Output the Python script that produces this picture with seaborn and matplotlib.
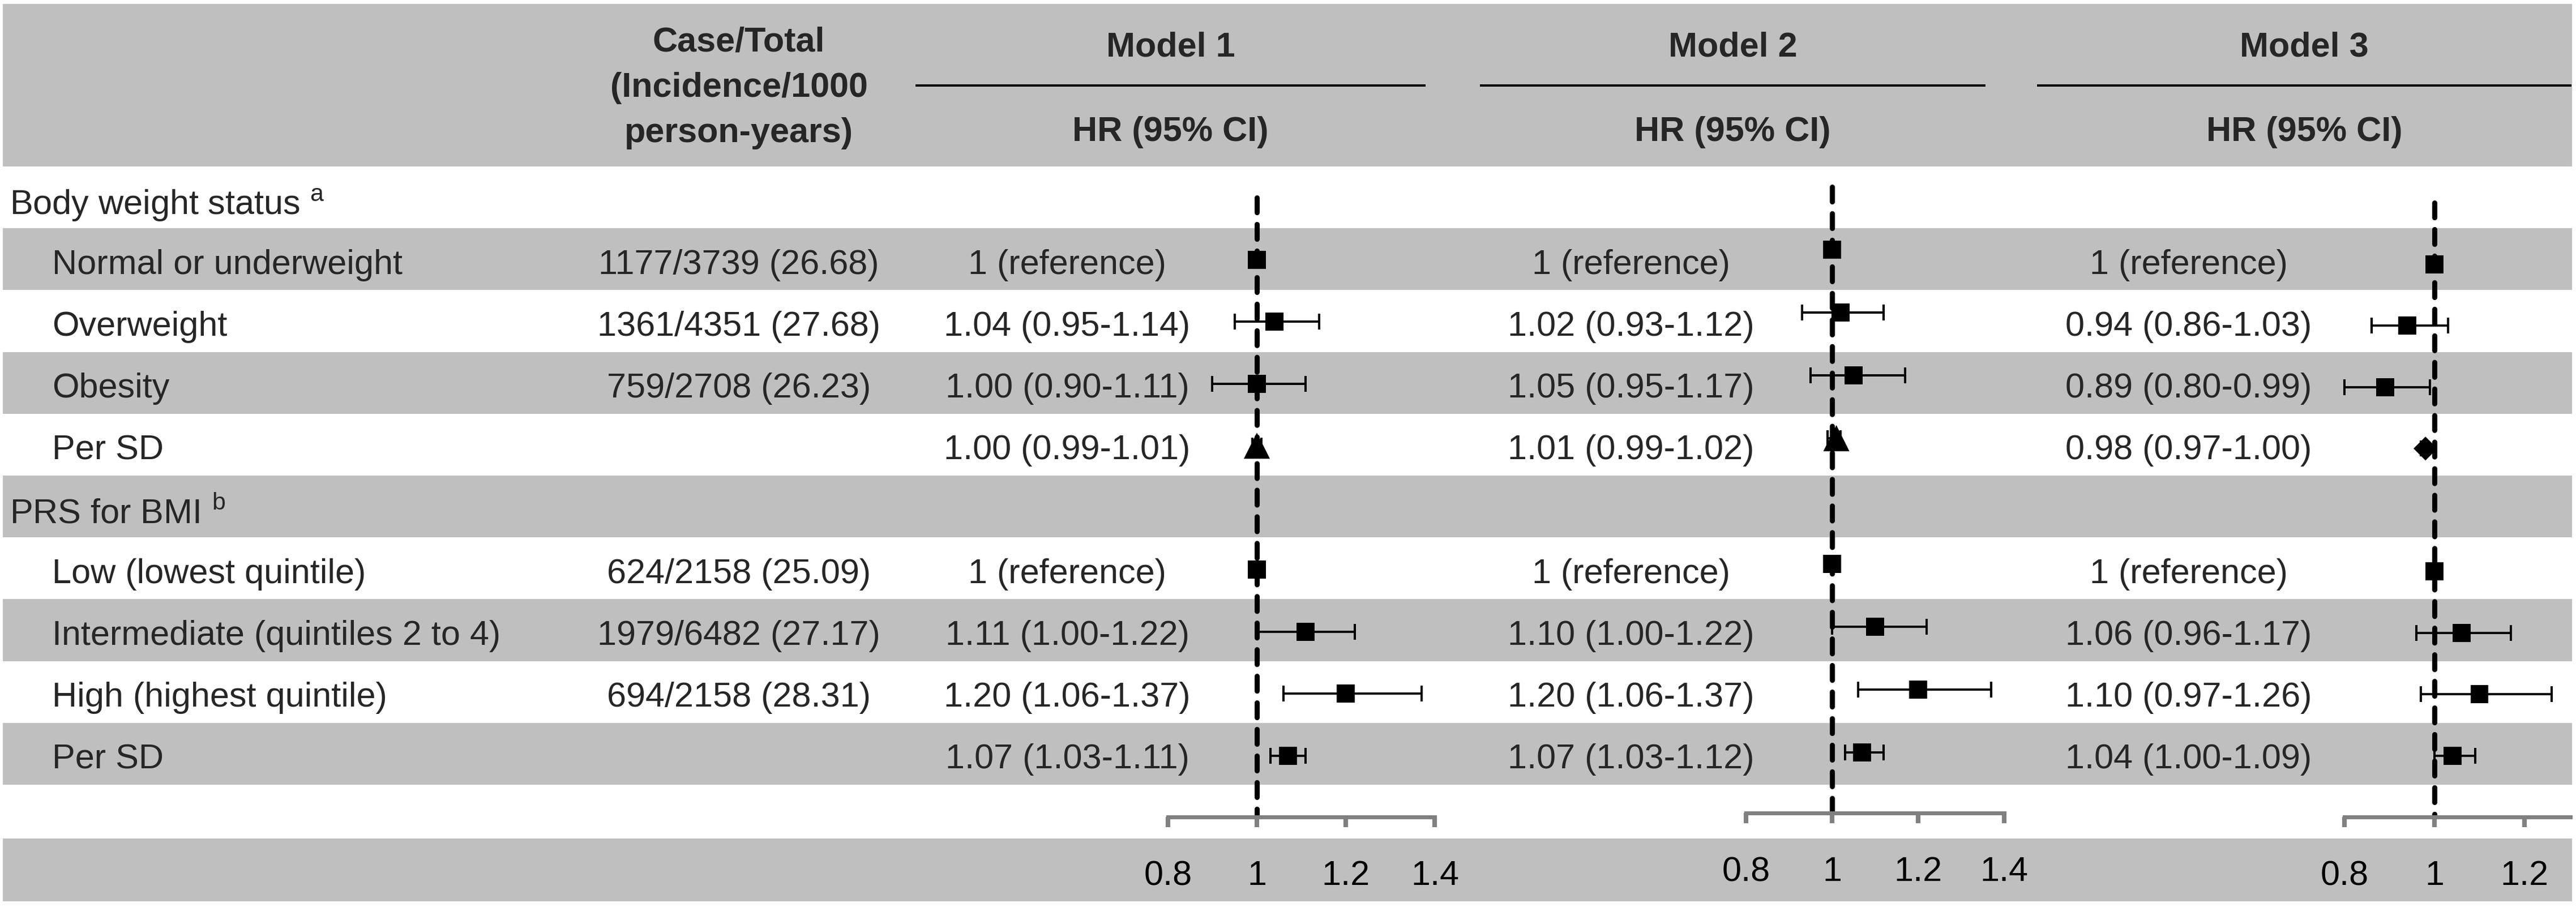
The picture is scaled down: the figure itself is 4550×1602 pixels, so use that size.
import numpy as np
import pandas as pd
import matplotlib
matplotlib.use("Agg")
from matplotlib import pyplot as plt
import seaborn as sns

# ---- data -------------------------------------------------------------
row_labels = ["Body weight status", "Normal or underweight", "Overweight", "Obesity", "Per SD",
              "PRS for BMI", "Low (lowest quintile)", "Intermediate (quintiles 2 to 4)",
              "High (highest quintile)", "Per SD"]
group_notes = {0: "a", 5: "b"}
case_total = ["", "1177/3739 (26.68)", "1361/4351 (27.68)", "759/2708 (26.23)", "",
              "", "624/2158 (25.09)", "1979/6482 (27.17)", "694/2158 (28.31)", ""]

models = ["Model 1", "Model 2", "Model 3"]
plot_rows = [1, 2, 3, 4, 6, 7, 8, 9]
per_sd_body_row = 4

m1_hr = [1, 1.04, 1.00, 1.00, 1, 1.11, 1.20, 1.07]
m1_lo = [np.nan, 0.95, 0.90, 0.99, np.nan, 1.00, 1.06, 1.03]
m1_hi = [np.nan, 1.14, 1.11, 1.01, np.nan, 1.22, 1.37, 1.11]

m2_hr = [1, 1.02, 1.05, 1.01, 1, 1.10, 1.20, 1.07]
m2_lo = [np.nan, 0.93, 0.95, 0.99, np.nan, 1.00, 1.06, 1.03]
m2_hi = [np.nan, 1.12, 1.17, 1.02, np.nan, 1.22, 1.37, 1.12]

m3_hr = [1, 0.94, 0.89, 0.98, 1, 1.06, 1.10, 1.04]
m3_lo = [np.nan, 0.86, 0.80, 0.97, np.nan, 0.96, 0.97, 1.00]
m3_hi = [np.nan, 1.03, 0.99, 1.00, np.nan, 1.17, 1.26, 1.09]

x_ticks = [[0.8, 1, 1.2, 1.4], [0.8, 1, 1.2, 1.4], [0.8, 1, 1.2]]
null_hr = 1

# ---- layout (pixels) --------------------------------------------------
W, H = 4550, 1602
GRAY = "#BFBFBF"
AXGRAY = "#808080"
FS = 44
row_top0, row_h = 294, 109.2
band_x0, band_x1 = 5, 4543
case_x = 1305
hr_text_x = [1885, 2881, 3866]
head_x0 = [1617, 2614, 3598]
head_x1 = [2518, 3507, 4542]
# x of HR=1, pixels per unit, axis line y, centre of row 0, centre of row 9, axes left/right
panels = [
    dict(one=2220, ppu=786, axy=1443, r0=349, r9=1335, x0=1960, x1=2580),
    dict(one=3236, ppu=760, axy=1436, r0=330, r9=1329, x0=2990, x1=3590),
    dict(one=4300, ppu=795, axy=1443, r0=358, r9=1335, x0=4060, x1=4540),
]
per_sd_marker = ["^", "^", "D"]

sns.set_style("ticks")
plt.rcParams["font.family"] = ["Liberation Sans", "DejaVu Sans"]
plt.rcParams["mathtext.fontset"] = "custom"
plt.rcParams["mathtext.rm"] = "Liberation Sans"

fig = plt.figure(figsize=(W / 100, H / 100), dpi=100)
bg = fig.add_axes([0, 0, 1, 1])
bg.set_xlim(0, W)
bg.set_ylim(H, 0)
bg.axis("off")

# shaded bands
xmin, xmax = band_x0 / W, band_x1 / W
bg.axhspan(7, row_top0, xmin=xmin, xmax=xmax, color=GRAY, lw=0)
for i in [1, 3, 5, 7, 9]:
    bg.axhspan(row_top0 + i * row_h, row_top0 + (i + 1) * row_h, xmin=xmin, xmax=xmax, color=GRAY, lw=0)
bg.axhspan(1481, 1592, xmin=xmin, xmax=xmax, color=GRAY, lw=0)

# header
for j, line in enumerate(["Case/Total", "(Incidence/1000", "person-years)"]):
    bg.text(case_x, 91 + j * 80, line, ha="center", va="baseline", fontsize=FS, fontweight="bold")
for k, name in enumerate(models):
    cx = (head_x0[k] + head_x1[k]) / 2
    bg.text(cx, 100, name, ha="center", va="baseline", fontsize=FS, fontweight="bold")
    bg.text(cx, 249, "HR (95% CI)", ha="center", va="baseline", fontsize=FS, fontweight="bold")
bg.hlines([151] * 3, head_x0, head_x1, color="black", lw=2.9)

# row texts
for i, lab in enumerate(row_labels):
    yc = row_top0 + (i + 0.5) * row_h
    if i in group_notes:
        bg.text(17, yc + 30, lab + r" $^{\mathrm{" + group_notes[i] + "}}$", ha="left",
                va="baseline", fontsize=FS)
    else:
        bg.text(92, yc + 26, lab, ha="left", va="baseline", fontsize=FS)
    if case_total[i]:
        bg.text(case_x, yc + 26, case_total[i], ha="center", va="baseline", fontsize=FS)

all_hr = [m1_hr, m2_hr, m3_hr]
all_lo = [m1_lo, m2_lo, m3_lo]
all_hi = [m1_hi, m2_hi, m3_hi]

for k in range(3):
    df = pd.DataFrame({"hr": all_hr[k], "lo": all_lo[k], "hi": all_hi[k], "row": plot_rows})
    df["label"] = [("1 (reference)" if np.isnan(r.lo) else f"{r.hr:.2f} ({r.lo:.2f}-{r.hi:.2f})")
                   for r in df.itertuples()]
    for r in df.itertuples():
        yc = row_top0 + (r.row + 0.5) * row_h
        bg.text(hr_text_x[k], yc + 26, r.label, ha="center", va="baseline", fontsize=FS)

    p = panels[k]
    top = 300
    ax = fig.add_axes([p["x0"] / W, 1 - p["axy"] / H, (p["x1"] - p["x0"]) / W, (p["axy"] - top) / H])
    ax.set_facecolor("none")
    step = (p["r9"] - p["r0"]) / 9
    y_top = (top - p["r0"]) / step
    y_bot = (p["axy"] - p["r0"]) / step

    ax.plot([null_hr, null_hr], [0, y_bot], color="black", lw=6.5,
            dashes=(2.9, 2.3), dash_capstyle="round", zorder=1)

    ci = df.dropna()
    ax.errorbar(ci.hr, ci.row, xerr=[ci.hr - ci.lo, ci.hi - ci.hr], fmt="none",
                ecolor="black", elinewidth=2.9, capsize=10, capthick=2.9, zorder=2)

    sq = df[df.row != per_sd_body_row]
    sns.scatterplot(data=sq, x="hr", y="row", marker="s", s=530, color="black",
                    edgecolor="none", legend=False, ax=ax, zorder=3)
    sd = df[df.row == per_sd_body_row]
    mk = per_sd_marker[k]
    sns.scatterplot(data=sd, x="hr", y="row", marker=mk, s=1100 if mk == "^" else 460,
                    color="black", edgecolor="none", legend=False, ax=ax, zorder=3)

    xl = (1 + (p["x0"] - p["one"]) / p["ppu"], 1 + (p["x1"] - p["one"]) / p["ppu"])
    ax.set_xlim(xl)
    ax.set_ylim(y_bot, y_top)
    ax.set_xlabel("")
    ax.set_ylabel("")
    ax.set_yticks([])
    ax.set_xticks(x_ticks[k])
    ax.set_xticklabels([f"{t:g}" for t in x_ticks[k]])
    for s in ["left", "top", "right"]:
        ax.spines[s].set_visible(False)
    sp = ax.spines["bottom"]
    sp.set_bounds(0.8, min(1.4, xl[1]))
    sp.set_color(AXGRAY)
    sp.set_linewidth(5)
    ax.tick_params(axis="x", bottom=True, direction="out", length=13, width=5.8,
                   color=AXGRAY, labelsize=FS, labelcolor="black", pad=42)

fig.savefig("out.png", dpi=100)
